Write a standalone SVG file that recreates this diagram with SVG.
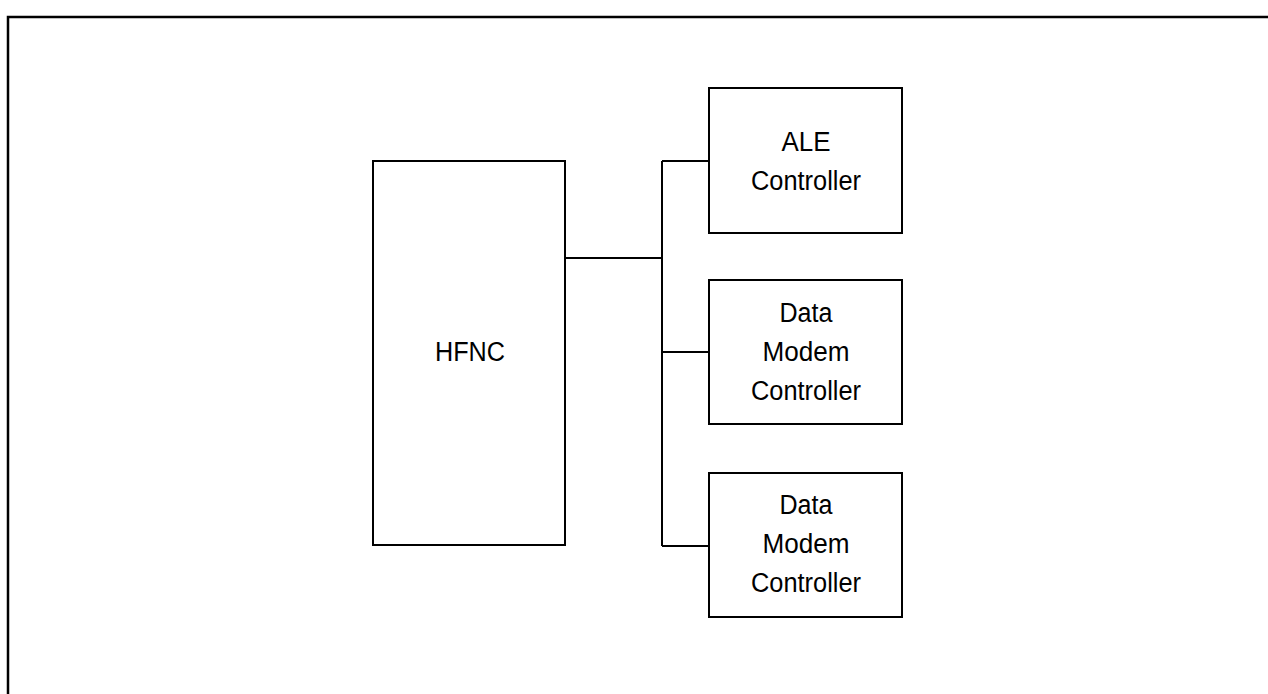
<svg xmlns="http://www.w3.org/2000/svg" width="1268" height="694" viewBox="0 0 1268 694">
<style>
.box{fill:#fff;stroke:#000;stroke-width:2}
.frame{fill:none;stroke:#000;stroke-width:2.5}
.conn{fill:none;stroke:#000;stroke-width:2}
text{font-family:"Liberation Sans",Arial,sans-serif;font-size:27px;fill:#000;text-anchor:middle}
</style>
<rect class="frame" x="8" y="17" width="1270" height="700"/>
<g id="connectors">
<path class="conn" d="M565 258 H662 M662 161 V546 M662 161 H709 M662 352 H709 M662 546 H709"/>
</g>
<g id="hfnc">
<rect class="box" x="373" y="161" width="192" height="384"/>
<text x="470" y="361" textLength="70" lengthAdjust="spacingAndGlyphs">HFNC</text>
</g>
<g id="ale">
<rect class="box" x="709" y="88" width="193" height="145"/>
<text x="806" y="151" textLength="49" lengthAdjust="spacingAndGlyphs">ALE</text>
<text x="806" y="190" textLength="110" lengthAdjust="spacingAndGlyphs">Controller</text>
</g>
<g id="dmc1">
<rect class="box" x="709" y="280" width="193" height="144"/>
<text x="806" y="322" textLength="53" lengthAdjust="spacingAndGlyphs">Data</text>
<text x="806" y="361" textLength="87" lengthAdjust="spacingAndGlyphs">Modem</text>
<text x="806" y="400" textLength="110" lengthAdjust="spacingAndGlyphs">Controller</text>
</g>
<g id="dmc2">
<rect class="box" x="709" y="473" width="193" height="144"/>
<text x="806" y="514" textLength="53" lengthAdjust="spacingAndGlyphs">Data</text>
<text x="806" y="553" textLength="87" lengthAdjust="spacingAndGlyphs">Modem</text>
<text x="806" y="592" textLength="110" lengthAdjust="spacingAndGlyphs">Controller</text>
</g>
</svg>
